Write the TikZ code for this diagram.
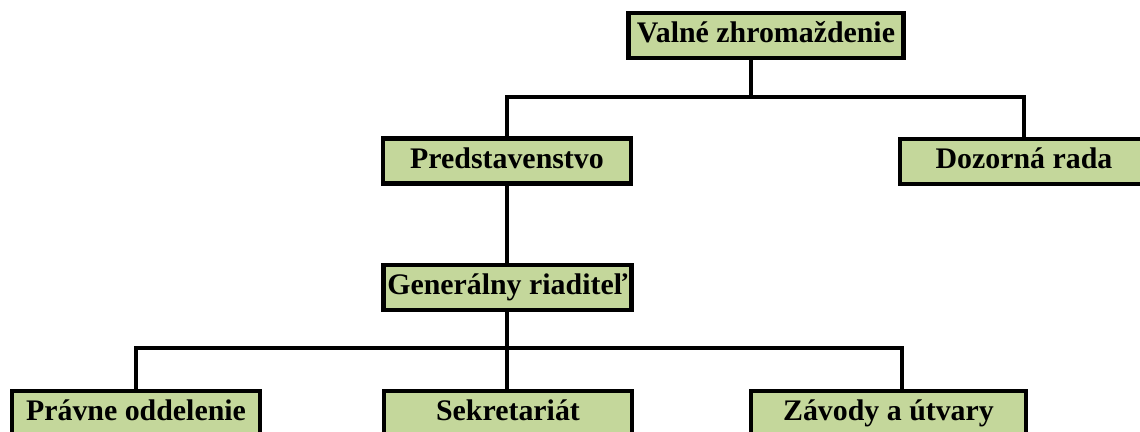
\documentclass[tikz,border=0pt]{standalone}
\usepackage{fontspec}
\setmainfont{Liberation Serif}
\usepackage{tikz}

\definecolor{boxgreen}{HTML}{C4D79B}

\begin{document}
\begin{tikzpicture}[x=0.02cm, y=-0.02cm,
    orgbox/.style={draw=black, line width=2.6pt, fill=boxgreen, inner sep=0pt,
        minimum width=4.96cm, minimum height=0.9cm,
        text height=2ex, text depth=0.26ex,
        font=\fontsize{17}{20}\selectfont\bfseries},
    widebox/.style={orgbox, minimum width=5.5cm},
    link/.style={line width=2.2pt}]

\clip (0,0) rectangle (1140,432);

\node [widebox] (valne)  at (766,35.5)  {Valné zhromaždenie};
\node [orgbox]  (pred)   at (507,161)   {Predstavenstvo};
\node [orgbox]  (dozor)  at (1024,161.5) {Dozorná rada};
\node [orgbox]  (gen)    at (507.5,287.5) {Generálny riaditeľ};
\node [orgbox]  (pravne) at (136,413.5) {Právne oddelenie};
\node [orgbox]  (sekr)   at (508,413.5) {Sekretariát};
\node [widebox] (zavody) at (888.5,413.5) {Závody a útvary};

\coordinate (top bus) at (751,97);
\coordinate (low bus) at (507,348);
\coordinate (low end) at (902,348);

\draw [link] (valne.south -| top bus) -- (top bus);
\draw [link] (pred.north) |- (top bus) -| (dozor.north);
\draw [link] (pred.south) -- (pred.south |- gen.north);

\draw [link] (gen.south -| low bus) -- (sekr.north -| low bus);
\draw [link] (pravne.north) |- (low bus) -- (low end) -- (zavody.north -| low end);

\end{tikzpicture}
\end{document}
